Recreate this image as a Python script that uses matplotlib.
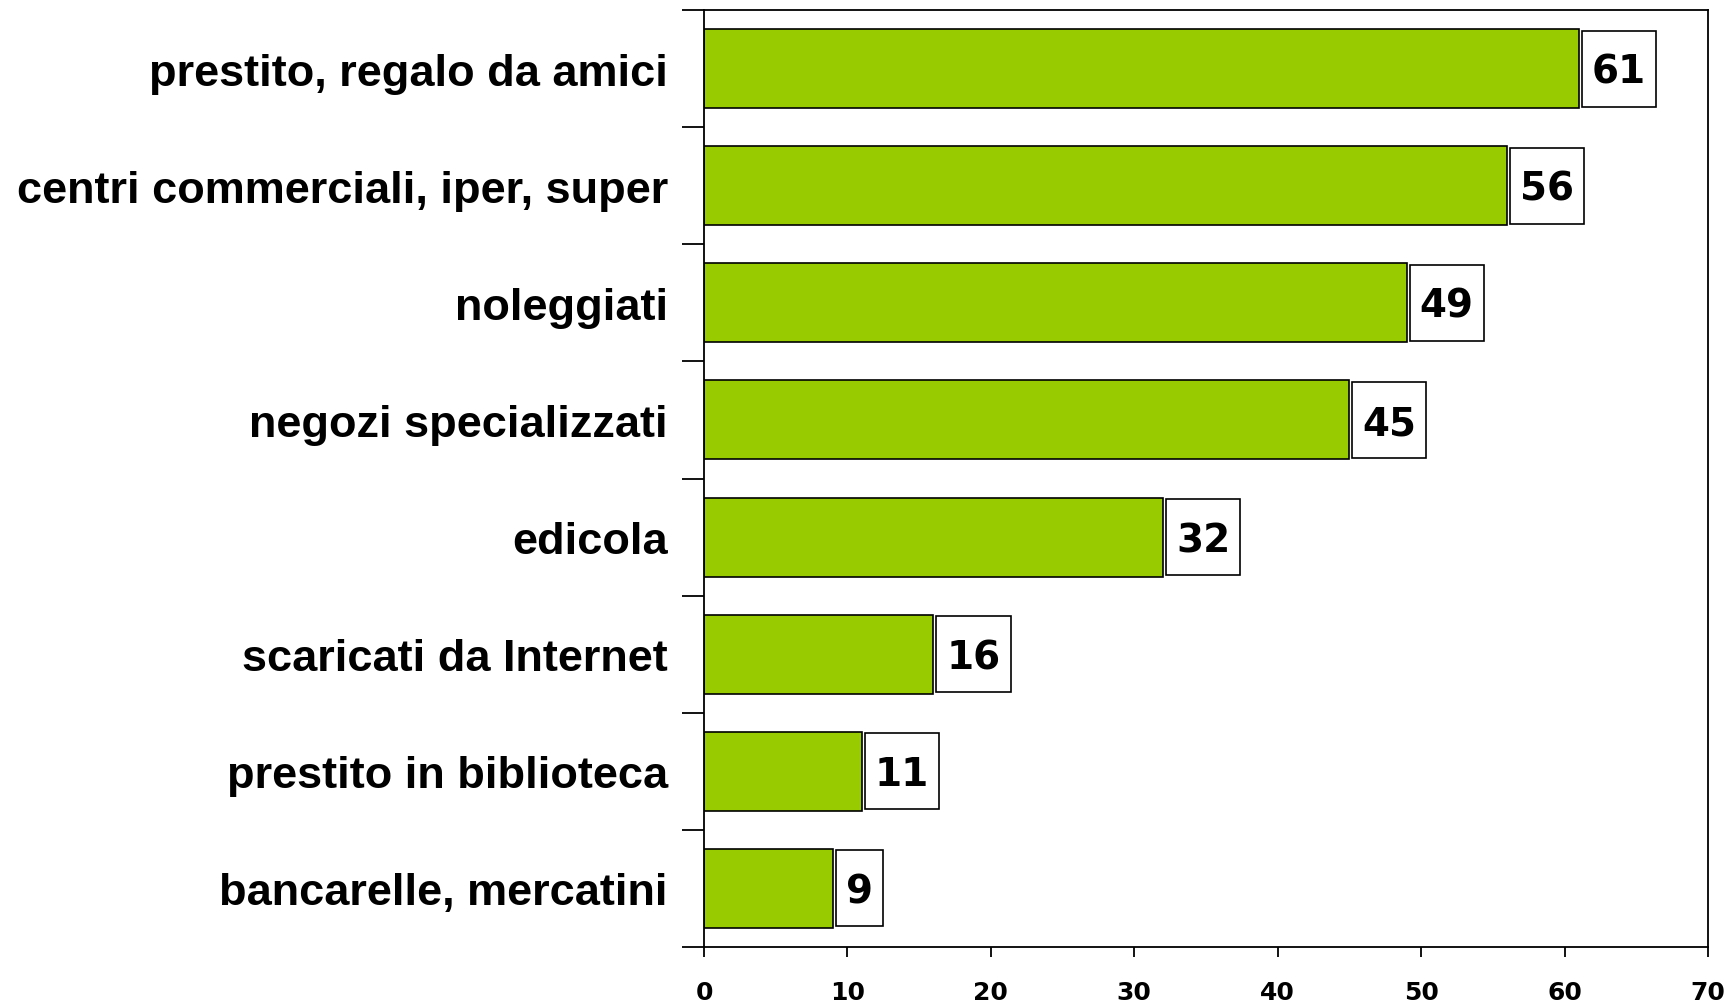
import matplotlib
matplotlib.use("Agg")
import matplotlib.pyplot as plt
from matplotlib.patches import Rectangle
from matplotlib.transforms import offset_copy
import numpy as np

categories = ["prestito, regalo da amici", "centri commerciali, iper, super",
              "noleggiati", "negozi specializzati", "edicola",
              "scaricati da Internet", "prestito in biblioteca",
              "bancarelle, mercatini"]
values = [61, 56, 49, 45, 32, 16, 11, 9]
xticks = [0, 10, 20, 30, 40, 50, 60, 70]

DPI = 100
fig = plt.figure(figsize=(17.35, 10.03), dpi=DPI)
ax = fig.add_axes([704/1735, 1-948/1003, (1708-704)/1735, (948-11)/1003])

n = len(categories)
ypos = np.arange(n)[::-1]
bar_h = 0.675
ax.barh(ypos, values, height=bar_h, color="#99CC00", edgecolor="black", linewidth=1.2, zorder=2)

ax.set_xlim(0, 70)
ax.set_ylim(-0.5, n - 0.5)
ax.set_xticks(xticks)
ax.set_xticklabels([str(t) for t in xticks], fontfamily="DejaVu Sans", fontweight="bold", fontsize=18)
ax.set_yticks(np.arange(-0.5, n, 1.0))
ax.set_yticklabels([])
ax.set_yticks(ypos, minor=True)
ax.set_yticklabels(categories, minor=True, fontfamily="Liberation Sans", fontweight="bold", fontsize=32.5)
ax.tick_params(axis="y", which="major", direction="out", length=16, width=1.3, color="black")
ax.tick_params(axis="y", which="minor", length=0, pad=26)
ax.tick_params(axis="x", which="major", direction="out", length=7, width=1.3, pad=17)
for s in ax.spines.values():
    s.set_linewidth(1.3)
    s.set_color("black")

px = (ax.transData.transform((1, 0))[0] - ax.transData.transform((0, 0))[0])
fs = 28
cap_px = 0.729 * fs * DPI / 72
trans = offset_copy(ax.transData, fig=fig, x=0, y=-cap_px / 2, units="dots")
texts = []
for y, v in zip(ypos, values):
    t = ax.text(v + 13/px, y, str(v), ha="left", va="baseline", fontfamily="DejaVu Sans",
                fontweight="bold", fontsize=fs, color="black", zorder=4, transform=trans)
    texts.append((t, y, v))

fig.canvas.draw()
r = fig.canvas.get_renderer()
for t, y, v in texts:
    bb = t.get_window_extent(renderer=r)
    w_data = (bb.width + 20) / px
    h = bar_h * 0.96
    rect = Rectangle((v + 3/px, y - h/2), w_data, h, facecolor="white", edgecolor="black",
                     linewidth=1.2, zorder=3)
    ax.add_patch(rect)

fig.savefig("out.png", dpi=DPI)
